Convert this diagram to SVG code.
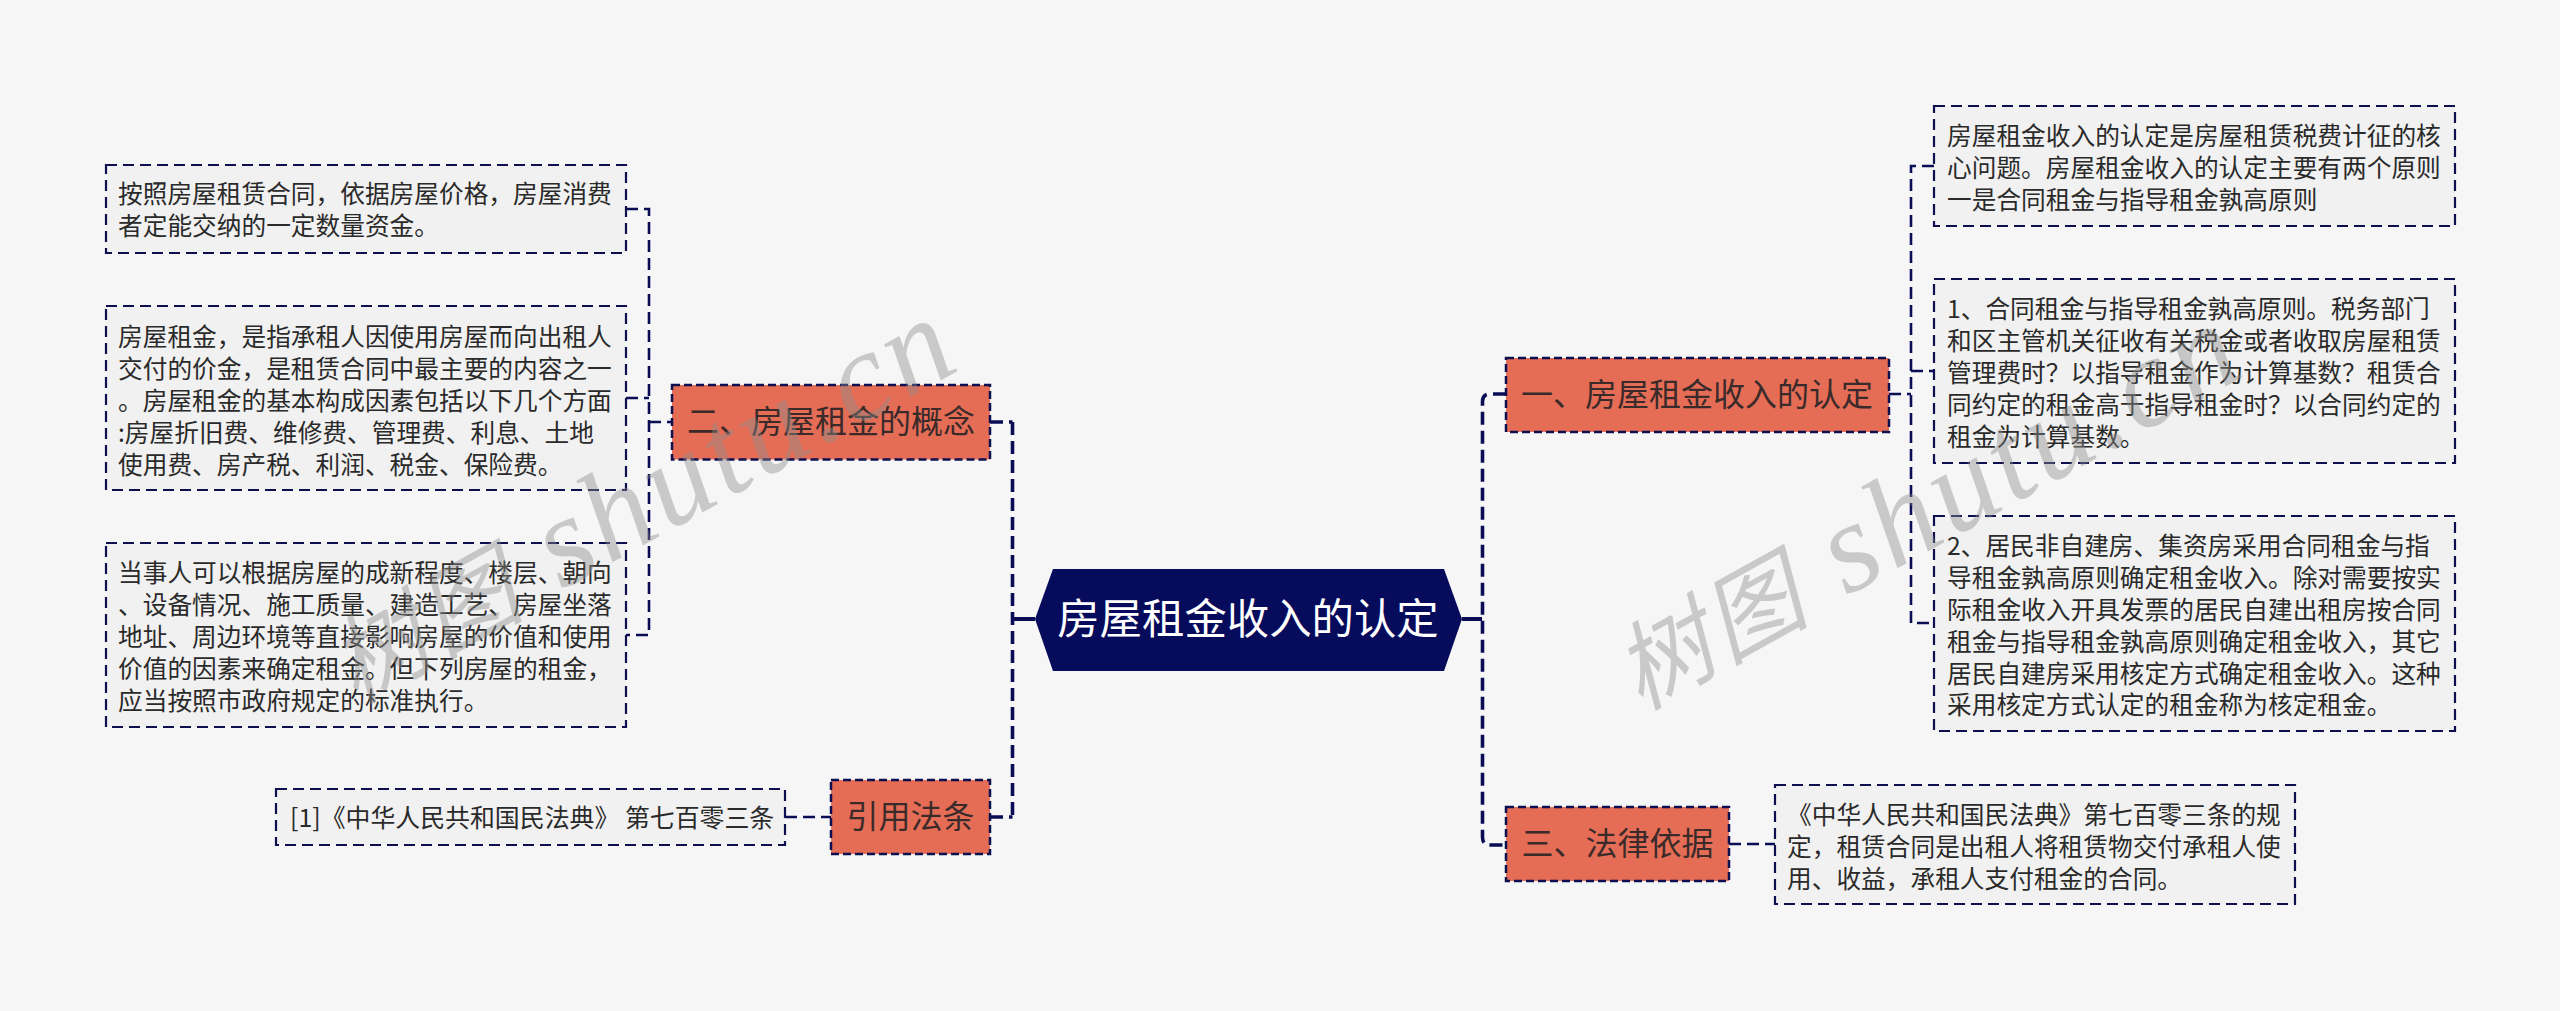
<svg xmlns="http://www.w3.org/2000/svg" width="2560" height="1011" viewBox="0 0 2560 1011">
<style>
text{font-family:"Noto Sans CJK SC","Noto Sans",sans-serif}
.leaf{fill:#f1f1f1;stroke:#0d0f4e;stroke-width:2.2;stroke-dasharray:11 6}
.main{fill:#e56d56;stroke:#0d0f4e;stroke-width:2.5;stroke-dasharray:8 4}
.lt{font-size:24.7px;fill:#2a2a2a}
.mt{font-size:32px;fill:#3a2a2a;text-anchor:middle}
.con{fill:none;stroke:#0a0d55;stroke-width:3.6;stroke-dasharray:13 6}
.con2{fill:none;stroke:#0a0d55;stroke-width:2.6;stroke-dasharray:12 6}
.wm{font-family:"Liberation Serif","Noto Sans CJK SC",serif;font-size:128px;font-style:italic;fill:#8c8c8c;opacity:.42;letter-spacing:4px}
.wc{font-size:96px}
</style>
<rect width="2560" height="1011" fill="#f6f6f6"/>
<g id="connectors">
<path class="con" d="M1012.5 422V817M990 422H1012.5M990 817H1012.5"/>
<path d="M1012 619H1035M1462 619H1482" fill="none" stroke="#0a0d55" stroke-width="4"/>
<path class="con" d="M1506 394H1490Q1482.5 394 1482.5 402V837Q1482.500 845 1490 845H1506"/>
<path class="con2" d="M626 209H649V635H626M626 398H649M649 422H671"/>
<path class="con2" d="M1889 394H1911M1934 166H1911V623H1934M1911 371H1934"/>
<path class="con2" d="M785 817H831M1729 844H1775"/>
</g>
<g id="center"><polygon points="1053,569 1444,569 1462,619 1444,671 1053,671 1035,619" fill="#060b5c"/><text x="1248" y="634" font-size="42.400" fill="#fff" text-anchor="middle">房屋租金收入的认定</text></g>
<g id="n2"><rect class="main" x="672" y="385" width="318" height="74.500"/><text class="mt" x="831" y="433">二、房屋租金的概念</text></g>
<g id="n4"><rect class="main" x="831" y="780" width="159" height="74"/><text class="mt" x="910.500" y="828">引用法条</text></g>
<g id="n1"><rect class="main" x="1506" y="358" width="383" height="74"/><text class="mt" x="1697" y="406">一、房屋租金收入的认定</text></g>
<g id="n3"><rect class="main" x="1506" y="807" width="223" height="74"/><text class="mt" x="1617.500" y="855">三、法律依据</text></g>
<g id="l1"><rect class="leaf" x="106" y="165" width="520" height="88"/><text class="lt" x="118" y="202.500">按照房屋租赁合同，依据房屋价格，房屋消费</text><text class="lt" x="118" y="235">者定能交纳的一定数量资金。</text></g>
<g id="l2"><rect class="leaf" x="106" y="306" width="520" height="184"/><text class="lt" x="118" y="345.500">房屋租金，是指承租人因使用房屋而向出租人</text><text class="lt" x="118" y="377.500">交付的价金，是租赁合同中最主要的内容之一</text><text class="lt" x="118" y="409.500">。房屋租金的基本构成因素包括以下几个方面</text><text class="lt" x="118" y="441.500">:房屋折旧费、维修费、管理费、利息、土地</text><text class="lt" x="118" y="473.500">使用费、房产税、利润、税金、保险费。</text></g>
<g id="l3"><rect class="leaf" x="106" y="543" width="520" height="184"/><text class="lt" x="118" y="581.500">当事人可以根据房屋的成新程度、楼层、朝向</text><text class="lt" x="118" y="613.500">、设备情况、施工质量、建造工艺、房屋坐落</text><text class="lt" x="118" y="645.500">地址、周边环境等直接影响房屋的价值和使用</text><text class="lt" x="118" y="677.500">价值的因素来确定租金。但下列房屋的租金，</text><text class="lt" x="118" y="709.500">应当按照市政府规定的标准执行。</text></g>
<g id="l4"><rect class="leaf" x="276" y="789" width="509" height="56"/><text class="lt" x="290" y="826.500" style="font-size:24.9px">[1]《中华人民共和国民法典》 第七百零三条</text></g>
<g id="r1"><rect class="leaf" x="1934" y="106" width="521" height="120"/><text class="lt" x="1947" y="144.500">房屋租金收入的认定是房屋租赁税费计征的核</text><text class="lt" x="1947" y="176.500">心问题。房屋租金收入的认定主要有两个原则</text><text class="lt" x="1947" y="208.500">一是合同租金与指导租金孰高原则</text></g>
<g id="r2"><rect class="leaf" x="1934" y="279" width="521" height="184"/><text class="lt" x="1947" y="317.500">1、合同租金与指导租金孰高原则。税务部门</text><text class="lt" x="1947" y="349.500">和区主管机关征收有关税金或者收取房屋租赁</text><text class="lt" x="1947" y="381.500">管理费时？以指导租金作为计算基数？租赁合</text><text class="lt" x="1947" y="413.500">同约定的租金高于指导租金时？以合同约定的</text><text class="lt" x="1947" y="445.500">租金为计算基数。</text></g>
<g id="r3"><rect class="leaf" x="1934" y="516" width="521" height="215"/><text class="lt" x="1947" y="555">2、居民非自建房、集资房采用合同租金与指</text><text class="lt" x="1947" y="587">导租金孰高原则确定租金收入。除对需要按实</text><text class="lt" x="1947" y="619">际租金收入开具发票的居民自建出租房按合同</text><text class="lt" x="1947" y="651">租金与指导租金孰高原则确定租金收入，其它</text><text class="lt" x="1947" y="683">居民自建房采用核定方式确定租金收入。这种</text><text class="lt" x="1947" y="714">采用核定方式认定的租金称为核定租金。</text></g>
<g id="r4"><rect class="leaf" x="1775" y="785" width="520" height="119"/><text class="lt" x="1787" y="823.500">《中华人民共和国民法典》第七百零三条的规</text><text class="lt" x="1787" y="855.500">定，租赁合同是出租人将租赁物交付承租人使</text><text class="lt" x="1787" y="887.500">用、收益，承租人支付租金的合同。</text></g>
<text class="wm" transform="translate(355 705) rotate(-29)"><tspan class="wc">树图</tspan> shutu.cn</text>
<text class="wm" transform="translate(1640 711) rotate(-29)"><tspan class="wc">树图</tspan> shutu.cn</text>
</svg>
